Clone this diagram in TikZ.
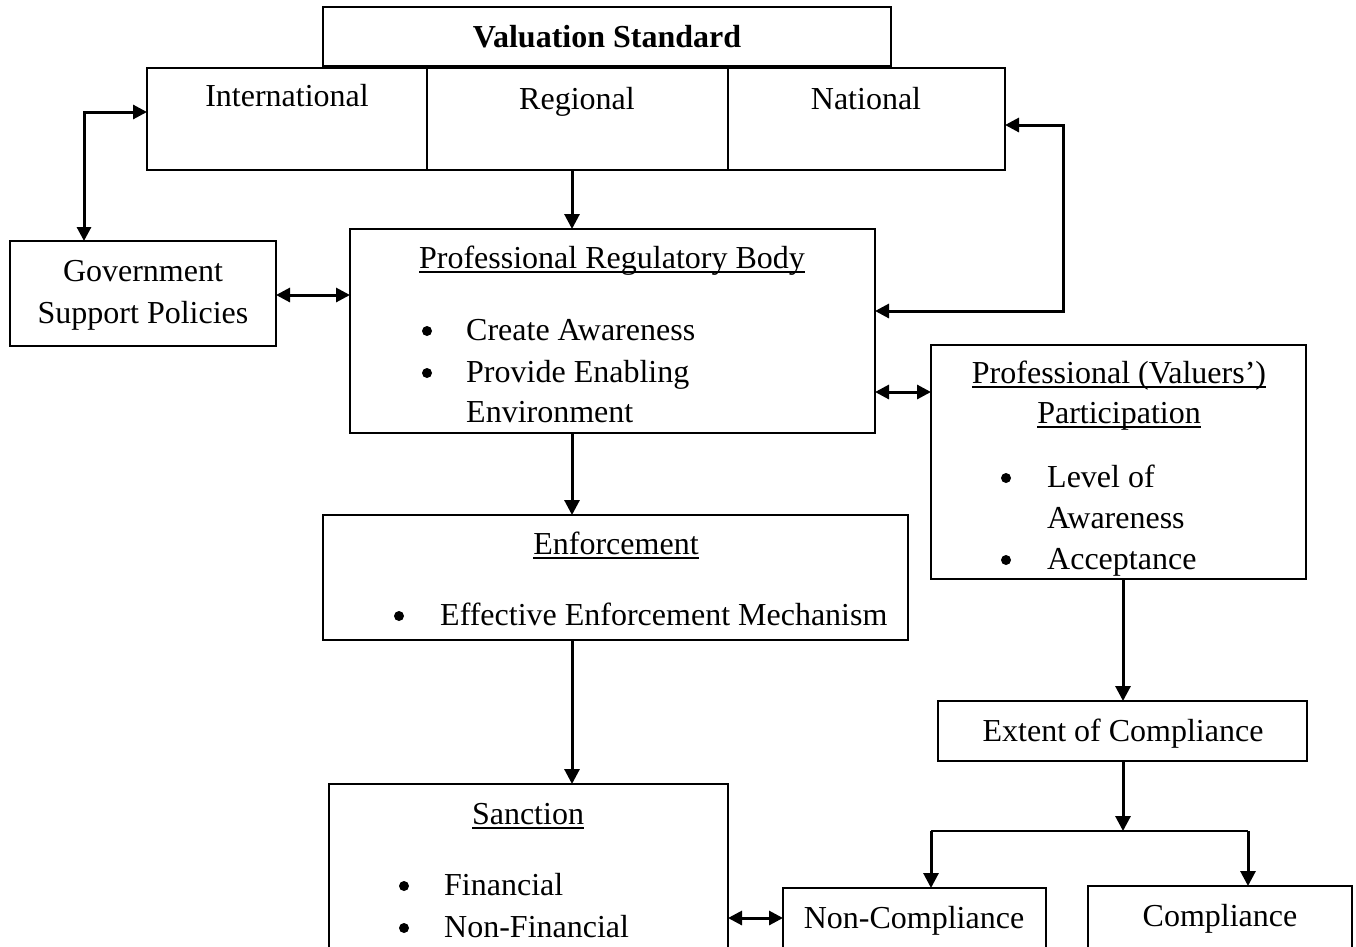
\documentclass[tikz,border=0pt]{standalone}
\usepackage{fontspec}
\setmainfont{Liberation Serif}
\usetikzlibrary{arrows.meta}
% underline drawn just below the baseline, crossing the descenders
\newcommand\ulined[1]{\sbox0{#1}\rlap{\rule[-4.5pt]{\wd0}{1.8pt}}\usebox0}
\begin{document}
\begin{tikzpicture}[x=1pt,y=-1pt,
  box/.style={draw, line width=1.4pt, inner sep=0pt, outer sep=0pt, rectangle},
  txt/.style={anchor=base, inner sep=0pt, font=\fontsize{32}{40}\selectfont},
  ltxt/.style={txt, anchor=base west},
  dot/.style={circle, fill, inner sep=0pt, minimum size=10pt},
  conn/.style={line width=3pt, -{Triangle[length=15pt,width=15pt]}},
  both/.style={line width=3pt, {Triangle[length=14pt,width=14pt]}-{Triangle[length=14pt,width=14pt]}},
  bar/.style={line width=1.5pt},
]
\useasboundingbox (0,0) rectangle (1356,946);
\clip (0,0) rectangle (1356,946);

% boxes
\node[box, minimum width=568pt, minimum height=59pt]  (vs)   at (607,36.5) {};
\node[box, minimum width=280pt, minimum height=102pt] (int)  at (287,119) {};
\node[box, minimum width=301pt, minimum height=102pt] (reg)  at (577.5,119) {};
\node[box, minimum width=277pt, minimum height=102pt] (nat)  at (866.5,119) {};
\node[box, minimum width=266pt, minimum height=105pt] (gov)  at (143,293.5) {};
\node[box, minimum width=525pt, minimum height=204pt] (prb)  at (612.5,331) {};
\node[box, minimum width=375pt, minimum height=234pt] (val)  at (1118.5,462) {};
\node[box, minimum width=585pt, minimum height=125pt] (enf)  at (615.5,577.5) {};
\node[box, minimum width=399pt, minimum height=216pt] (san)  at (528.5,892) {};
\node[box, minimum width=369pt, minimum height=60pt]  (ext)  at (1122.5,731) {};
\node[box, minimum width=263pt, minimum height=112pt] (nonc) at (914.5,944) {};
\node[box, minimum width=264pt, minimum height=114pt] (comp) at (1220,943) {};

% texts
\node[txt] (tvs) at (607,47) {\bfseries Valuation Standard};
\node[txt] (tint) at (287,106) {International};
\node[txt] (treg) at (577,109) {Regional};
\node[txt] (tnat) at (866,109) {National};
\node[txt] (tgov1) at (143,281) {Government};
\node[txt] (tgov2) at (143,323) {Support Policies};

\node[txt] (tprb) at (612,268) {\ulined{Professional Regulatory Body}};
\node[dot] (bp1) at (427,331) {};
\node[dot] (bp2) at (427,373) {};
\node[ltxt] (tp1) at (466,340) {Create Awareness};
\node[ltxt] (tp2) at (466,382) {Provide Enabling};
\node[ltxt] (tp3) at (466,422) {Environment};

\node[txt] (tval1) at (1119,383) {\ulined{Professional (Valuers’)}};
\node[txt] (tval2) at (1119,423) {\ulined{Participation}};
\node[dot] (bv1) at (1006,478) {};
\node[dot] (bv2) at (1006,560) {};
\node[ltxt] (tv1) at (1047,487) {Level of};
\node[ltxt] (tv2) at (1047,528) {Awareness};
\node[ltxt] (tv3) at (1047,569) {Acceptance};

\node[txt] (tenf) at (616,554) {\ulined{Enforcement}};
\node[dot] (be1) at (399,616) {};
\node[ltxt] (te1) at (440,625) {Effective Enforcement Mechanism};

\node[txt] (tsan) at (528,824) {\ulined{Sanction}};
\node[dot] (bs1) at (404,886) {};
\node[dot] (bs2) at (404,928) {};
\node[ltxt] (ts1) at (444,895) {Financial};
\node[ltxt] (ts2) at (444,937) {Non-Financial};

\node[txt] (text) at (1123,741) {Extent of Compliance};
\node[txt] (tnonc) at (914,928) {Non-Compliance};
\node[txt] (tcomp) at (1220,926) {Compliance};

% routing points
\coordinate (colA) at (572,0);
\coordinate (kneeA) at (84,112);
\coordinate (kneeB) at (1063,125);
\coordinate (kneeC) at (1063,311);
\coordinate (gpY) at (300,295);
\coordinate (pvY) at (900,392);
\coordinate (snY) at (750,918);
\coordinate (barM) at (1123,831);
\coordinate (barL) at (931,831);
\coordinate (barR) at (1248,831);

% connectors
\draw[conn] (reg.south -| colA) -- (prb.north -| colA);
\draw[both] (gov.north -| kneeA) -- (kneeA) -- (kneeA -| int.west);
\draw[both] (kneeB -| nat.east) -- (kneeB) -- (kneeC) -- (kneeC -| prb.east);
\draw[both] (gpY -| gov.east) -- (gpY -| prb.west);
\draw[both] (pvY -| prb.east) -- (pvY -| val.west);
\draw[conn] (prb.south -| colA) -- (enf.north -| colA);
\draw[conn] (enf.south -| colA) -- (san.north -| colA);
\draw[both] (snY -| san.east) -- (snY -| nonc.west);
\draw[conn] (val.south -| barM) -- (ext.north -| barM);
\draw[conn] (ext.south -| barM) -- (barM);
\draw[bar] (barL) -- (barR);
\draw[conn] (barL) -- (barL |- nonc.north);
\draw[conn] (barR) -- (barR |- comp.north);
\end{tikzpicture}
\end{document}
